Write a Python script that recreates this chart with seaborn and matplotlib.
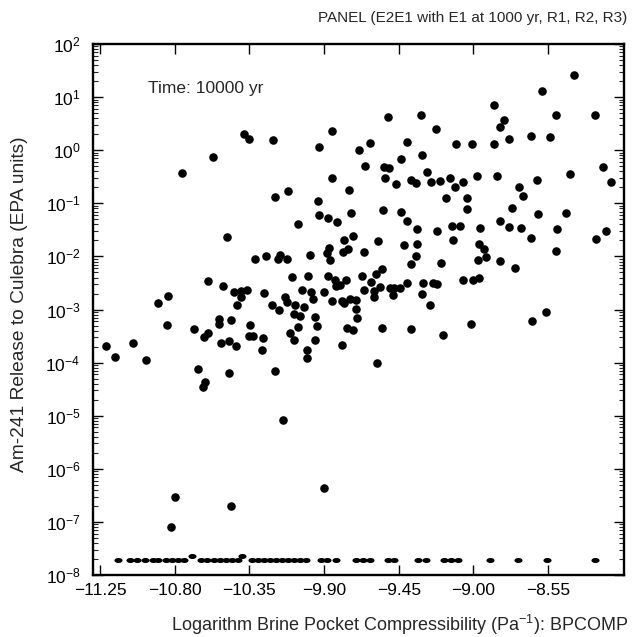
import numpy as np
import pandas as pd
import matplotlib
matplotlib.use("Agg")
import matplotlib.pyplot as plt
import matplotlib.ticker as mticker
from matplotlib.path import Path
import seaborn as sns

# ---- data ----
# log10 of BPCOMP (x) and log10 of Am-241 release (y) for sampled vectors
main_x = [
    -10.758, -10.571, -10.383, -10.351, -10.208, -9.931, -9.854, -9.690, -9.624, -9.652,
    -9.854, -10.196, -10.117, -9.750, -9.517, -9.316, -9.226, -9.402, -9.435, -9.308,
    -9.539, -9.507, -9.531, -9.467, -9.377, -9.348, -9.278, -9.256, -9.200, -9.143,
    -9.111, -9.065, -9.107, -9.009, -8.877, -8.814, -8.839, -8.878, -8.788, -8.652,
    -8.537, -8.587, -8.396, -8.505, -8.270, -8.981, -8.858, -8.726, -8.702, -8.617,
    -8.417, -8.222, -8.173, -9.164, -9.037, -9.935, -9.933, -9.878, -9.822, -9.738,
    -10.055, -9.545, -9.435, -9.401, -9.342, -9.218, -9.130, -9.080, -9.037, -8.963,
    -8.839, -8.770, -8.788, -8.716, -8.613, -8.445, -8.497, -8.204, -9.573, -9.420,
    -9.339, -9.345, -9.375, -9.198, -9.125, -8.967, -8.937, -8.927, -8.973, -8.842,
    -8.748, -8.652, -8.501, -8.264, -9.553, -9.587, -9.617, -9.660, -9.599, -9.599,
    -9.563, -9.503, -9.477, -9.443, -9.483, -9.401, -9.302, -9.246, -9.222, -9.308,
    -9.262, -9.065, -9.001, -8.967, -9.549, -9.377, -9.184, -9.013, -8.649, -8.565,
    -9.583, -10.485, -9.782, -9.726, -9.869, -9.884, -9.864, -9.756, -9.784, -9.660,
    -9.987, -10.316, -10.250, -10.166, -10.180, -10.125, -10.095, -9.995, -9.877, -9.833,
    -9.766, -9.830, -9.806, -9.672, -10.601, -10.511, -10.443, -10.402, -10.363, -10.402,
    -10.425, -10.262, -10.035, -9.979, -9.965, -9.901, -9.851, -9.792, -9.780, -9.742,
    -9.710, -9.706, -9.702, -10.840, -10.901, -10.134, -10.125, -10.216, -10.172, -10.074,
    -10.023, -10.080, -10.045, -9.955, -10.057, -9.943, -9.762, -9.724, -10.105, -10.083,
    -9.957, -10.003, -10.001, -9.792, -10.531, -10.531, -10.463, -10.345, -10.848, -10.682,
    -10.601, -10.622, -10.523, -10.475, -10.433, -10.352, -10.327, -10.266, -10.276, -11.212,
    -11.053, -11.161, -10.971, -10.661, -10.475, -10.196, -10.616, -10.631, -10.149, -10.798,
    -10.822, -10.463, -9.899,
]
main_log_release = [
    -0.435, -0.122, 0.305, 0.205, 0.186, 0.066, 0.362, -0.002, 0.141, -0.303,
    -0.523, -0.876, -0.774, -0.755, 0.620, 0.663, 0.399, 0.149, -0.166, -0.096,
    -0.322, -0.330, -0.518, -0.642, -0.567, -0.612, -0.410, -0.604, -0.586, -0.529,
    -0.699, -0.599, 0.111, 0.117, 0.857, 0.563, 0.443, 0.117, 0.211, 0.267,
    0.243, 1.109, 1.411, 0.669, 0.669, -0.491, -0.480, -0.699, -0.862, -0.567,
    -0.443, -0.311, -0.599, -0.906, -0.894, -0.951, -1.215, -1.271, -1.346, -1.177,
    -1.390, -1.126, -1.164, -1.333, -1.490, -1.522, -1.427, -1.427, -1.098, -1.471,
    -1.333, -1.083, -1.452, -1.459, -1.201, -1.183, -1.478, -1.522, -1.716, -1.780,
    -1.761, -1.987, -2.137, -2.130, -1.691, -1.761, -1.861, -2.006, -2.062, -2.087,
    -2.218, -1.659, -1.893, -1.678, -2.243, -2.331, -2.482, -2.633, -2.651, -2.764,
    -2.582, -2.601, -2.601, -2.601, -2.733, -2.495, -2.495, -2.495, -2.520, -2.702,
    -2.921, -2.444, -2.444, -2.401, -3.348, -3.361, -3.480, -3.279, -3.211, -3.041,
    -4.013, -1.635, -1.697, -1.621, -1.836, -1.930, -2.062, -1.855, -1.923, -1.923,
    -1.974, -2.049, -1.998, -1.968, -2.043, -2.049, -2.388, -2.375, -2.375, -2.439,
    -2.450, -2.552, -2.544, -2.375, -2.469, -2.563, -2.665, -2.657, -2.627, -2.770,
    -2.921, -2.695, -2.638, -2.670, -2.808, -2.665, -2.845, -2.834, -2.883, -2.797,
    -2.815, -2.991, -3.154, -2.740, -2.883, -2.759, -2.859, -2.915, -3.009, -2.921,
    -2.958, -3.090, -3.128, -3.136, -3.324, -3.311, -3.343, -3.392, -3.437, -3.580,
    -3.580, -3.763, -3.919, -3.668, -3.173, -3.267, -3.198, -3.286, -3.286, -3.373,
    -3.437, -3.523, -3.625, -3.599, -3.682, -3.493, -3.493, -3.537, -3.763, -3.682,
    -3.636, -3.900, -3.957, -4.126, -4.196, -4.152, -4.365, -4.459, -5.081, -6.525,
    -7.096, -6.700, -6.356,
]
# vectors with (near) zero release plotted at the floor of the axis
floor_x = [
    -11.144, -11.069, -11.027, -10.979, -10.931, -10.901, -10.852, -10.816, -10.780, -10.744,
    -10.696, -10.642, -10.605, -10.563, -10.527, -10.491, -10.455, -10.419, -10.395, -10.334,
    -10.298, -10.262, -10.226, -10.190, -10.154, -10.117, -10.081, -10.045, -10.009, -9.919,
    -9.883, -9.828, -9.708, -9.666, -9.624, -9.515, -9.479, -9.334, -9.286, -9.178,
    -9.136, -9.093, -8.901, -8.732, -8.557, -8.268,
]
floor_log_release = [
    -7.72, -7.72, -7.72, -7.72, -7.72, -7.72, -7.72, -7.72, -7.72, -7.72,
    -7.64, -7.72, -7.72, -7.72, -7.72, -7.72, -7.72, -7.72, -7.64, -7.72,
    -7.72, -7.72, -7.72, -7.72, -7.72, -7.72, -7.72, -7.72, -7.72, -7.72,
    -7.72, -7.72, -7.72, -7.72, -7.72, -7.72, -7.72, -7.72, -7.72, -7.72,
    -7.72, -7.72, -7.72, -7.72, -7.72, -7.72,
]
x_ticks = [-11.25, -10.80, -10.35, -9.90, -9.45, -9.00, -8.55]
x_tick_labels = ["\u221211.25", "\u221210.80", "\u221210.35", "\u22129.90",
                 "\u22129.45", "\u22129.00", "\u22128.55"]

title_text = "PANEL (E2E1 with E1 at 1000 yr, R1, R2, R3)"
time_text = "Time: 10000 yr"
x_label = "Logarithm Brine Pocket Compressibility (Pa$^{-1}$): BPCOMP"
y_label = "Am-241 Release to Culebra (EPA units)"

# ---- build tables ----
main_df = pd.DataFrame({"BPCOMP": main_x,
                        "release": 10.0 ** np.array(main_log_release)})
floor_df = pd.DataFrame({"BPCOMP": floor_x,
                         "release": 10.0 ** np.array(floor_log_release)})

# flattened dot used for the floor row
_t = np.linspace(0, 2 * np.pi, 40)
flat_dot = Path(np.column_stack([np.cos(_t), 0.62 * np.sin(_t)]), closed=True)

# ---- style ----
sns.set_style("ticks")
plt.rcParams["font.family"] = ["Liberation Sans", "DejaVu Sans"]
plt.rcParams["mathtext.fontset"] = "custom"
plt.rcParams["mathtext.rm"] = "Liberation Sans"
plt.rcParams["mathtext.it"] = "Liberation Sans:italic"

fig = plt.figure(figsize=(6.39, 6.37), dpi=100)
ax = fig.add_axes([0.1455, 0.0973, 0.831, 0.8336])

sns.scatterplot(data=main_df, x="BPCOMP", y="release", ax=ax,
                color="black", marker="o", s=38, edgecolor="black", linewidth=0)
sns.scatterplot(data=floor_df, x="BPCOMP", y="release", ax=ax,
                color="black", marker=flat_dot, s=34, edgecolor="black", linewidth=0)

ax.set_yscale("log")
ax.set_ylim(1e-8, 1e2)
ax.set_xlim(-11.292, -8.093)

ax.yaxis.set_major_locator(mticker.LogLocator(base=10, numticks=20))
ax.yaxis.set_minor_locator(mticker.LogLocator(base=10, subs=np.arange(2, 10), numticks=20))
ax.yaxis.set_minor_formatter(mticker.NullFormatter())
ax.set_xticks(x_ticks)
ax.set_xticklabels(x_tick_labels)

ax.tick_params(axis="both", which="major", direction="in", length=7, width=1.0,
               top=True, right=True, labelsize=12.5, colors="black", pad=6)
ax.tick_params(axis="y", which="major", pad=9)
ax.tick_params(axis="y", which="minor", direction="in", length=3.5, width=0.8,
               left=True, right=True)
ax.tick_params(axis="x", which="minor", bottom=False, top=False)

for sp in ax.spines.values():
    sp.set_linewidth(1.7)
    sp.set_color("black")

ax.set_xlabel(x_label, fontsize=13)
ax.xaxis.set_label_coords(0.578, -0.071)
ax.set_ylabel(y_label, fontsize=13.8)
ax.yaxis.set_label_coords(-0.122, 0.51)

ax.text(0.104, 0.917, time_text, transform=ax.transAxes, fontsize=12.5,
        ha="left", va="center")
fig.text(0.982, 0.972, title_text, fontsize=11, ha="right", va="center")

fig.savefig("out.png", dpi=100)
